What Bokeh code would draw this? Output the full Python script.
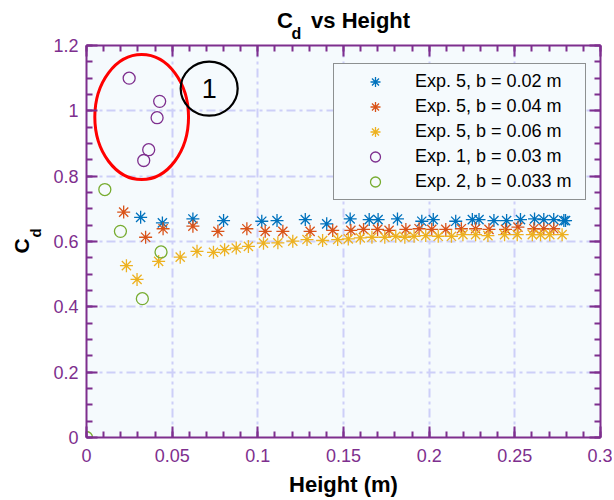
import numpy as np
from bokeh.plotting import figure
from bokeh.models import (Range1d, LinearAxis, FixedTicker, Label, Legend,
                          LegendItem, CustomJSTickFormatter)
from bokeh.core.properties import value
from bokeh.embed import file_html
from bokeh.resources import INLINE

# ---------------- data ----------------
exp5_b002_h = [0.0316, 0.0443, 0.0621, 0.0800, 0.1023, 0.1112, 0.1277, 0.1402, 0.1539,
               0.1650, 0.1702, 0.1815, 0.1957, 0.2024, 0.2155, 0.2252, 0.2291, 0.2378,
               0.2452, 0.2533, 0.2615, 0.2669, 0.2727, 0.2786, 0.2796]
exp5_b002_cd = [0.674, 0.657, 0.669, 0.664, 0.662, 0.664, 0.667, 0.654, 0.669,
                0.667, 0.667, 0.669, 0.662, 0.667, 0.662, 0.667, 0.667, 0.664,
                0.664, 0.667, 0.669, 0.667, 0.667, 0.664, 0.664]

exp5_b004_h = [0.0217, 0.0345, 0.0447, 0.0621, 0.0767, 0.0936, 0.1043, 0.1146, 0.1305,
               0.1437, 0.1543, 0.1617, 0.1699, 0.1766, 0.1864, 0.1941, 0.2015, 0.2097,
               0.2188, 0.2271, 0.2349, 0.2446, 0.2518, 0.2611, 0.2669, 0.2727]
exp5_b004_cd = [0.690, 0.613, 0.639, 0.647, 0.631, 0.639, 0.631, 0.631, 0.631,
                0.634, 0.634, 0.637, 0.637, 0.634, 0.637, 0.639, 0.637, 0.637,
                0.639, 0.639, 0.637, 0.637, 0.644, 0.639, 0.639, 0.639]

exp5_b006_h = [0.0233, 0.0295, 0.0421, 0.0547, 0.0645, 0.0741, 0.0806, 0.0874, 0.0945,
               0.1033, 0.1117, 0.1204, 0.1287, 0.1378, 0.1466, 0.1528, 0.1598, 0.1666,
               0.1741, 0.1805, 0.1858, 0.1912, 0.1980, 0.2053, 0.2130, 0.2197, 0.2271,
               0.2343, 0.2440, 0.2514, 0.2602, 0.2650, 0.2704, 0.2776]
exp5_b006_cd = [0.526, 0.484, 0.539, 0.552, 0.570, 0.567, 0.575, 0.580, 0.585,
                0.595, 0.596, 0.601, 0.606, 0.603, 0.606, 0.608, 0.611, 0.613,
                0.613, 0.616, 0.613, 0.616, 0.618, 0.616, 0.616, 0.621, 0.621,
                0.618, 0.621, 0.621, 0.621, 0.621, 0.621, 0.621]

exp1_h = [0.0249, 0.0427, 0.0412, 0.0363, 0.0334]
exp1_cd = [1.100, 1.029, 0.979, 0.881, 0.848]

exp2_h = [0.0, 0.0107, 0.0198, 0.0326, 0.0435]
exp2_cd = [0.0, 0.759, 0.631, 0.425, 0.568]

series_labels = ["Exp. 5, b = 0.02 m", "Exp. 5, b = 0.04 m", "Exp. 5, b = 0.06 m",
                 "Exp. 1, b = 0.03 m", "Exp. 2, b = 0.033 m"]

x_ticks = [0, 0.05, 0.1, 0.15, 0.2, 0.25, 0.3]
x_tick_labels = ["0", "0.05", "0.1", "0.15", "0.2", "0.25", "0.3"]
y_ticks = [0, 0.2, 0.4, 0.6, 0.8, 1.0, 1.2]
y_tick_labels = ["0", "0.2", "0.4", "0.6", "0.8", "1", "1.2"]

title_main = "C\u00a0\u00a0\u00a0vs Height"     # subscript "d" drawn separately
title_sub = "d"
x_label = "Height (m)"
y_label_main = "C"
y_label_sub = "d"

# annotation: red ellipse around Exp. 1, circled "1"
ellipse_center = [0.0322, 0.981]
ellipse_size = [0.0547, 0.383]
marker_center = [0.0716, 1.068]
marker_text = "1"

# ---------------- styling ----------------
FONT = "Liberation Sans"
AX = "#7E2F8E"
BLUE, ORANGE, YELLOW, PURPLE, GREEN = "#0072BD", "#D95319", "#EDB120", "#7E2F8E", "#77AC30"
BG = "#F5FAFD"
GRID = "#CDCFF8"

p = figure(width=612, height=500, output_backend="svg", toolbar_location=None,
           x_range=Range1d(0, 0.3), y_range=Range1d(0, 1.2),
           min_border_left=85, min_border_right=12, min_border_top=45,
           min_border_bottom=63, x_axis_location=None, y_axis_location=None)
p.background_fill_color = BG
p.border_fill_color = "white"
p.outline_line_color = None

x_minor = list(np.round(np.arange(0, 0.3001, 0.01), 4))
y_minor = list(np.round(np.arange(0, 1.2001, 0.05), 4))
xt = FixedTicker(ticks=x_ticks, minor_ticks=x_minor)
yt = FixedTicker(ticks=y_ticks, minor_ticks=y_minor)

def style_axis(ax, labels=True):
    ax.axis_line_color = AX
    ax.axis_line_width = 2
    ax.major_tick_line_color = AX
    ax.major_tick_line_width = 2
    ax.minor_tick_line_color = AX
    ax.minor_tick_line_width = 2
    ax.major_tick_in = 11
    ax.major_tick_out = 0
    ax.minor_tick_in = 6
    ax.minor_tick_out = 0
    ax.major_label_text_color = AX
    ax.major_label_text_font = FONT
    ax.major_label_text_font_size = "18px"
    ax.axis_label_text_font = FONT
    ax.axis_label_text_font_style = "bold"
    ax.axis_label_text_color = "black"
    ax.axis_label_text_font_size = "22px"
    if not labels:
        ax.formatter = CustomJSTickFormatter(code="return ''")
        ax.major_label_text_font_size = "1px"
        ax.major_label_standoff = 0

xb = LinearAxis(ticker=xt, major_label_overrides=dict(zip(x_ticks, x_tick_labels)),
                axis_label=x_label)
style_axis(xb)
xb.major_label_standoff = 11
xb.axis_label_standoff = 7
p.add_layout(xb, "below")

xa = LinearAxis(ticker=xt, axis_label=title_main)
style_axis(xa, labels=False)
xa.axis_label_standoff = 13
p.add_layout(xa, "above")

yl = LinearAxis(ticker=yt, major_label_overrides=dict(zip(y_ticks, y_tick_labels)))
style_axis(yl)
yl.major_label_standoff = 8
p.add_layout(yl, "left")

yr = LinearAxis(ticker=yt)
style_axis(yr, labels=False)
p.add_layout(yr, "right")

p.xgrid.ticker = xt
p.ygrid.ticker = yt
for g in (p.xgrid, p.ygrid):
    g.grid_line_color = GRID
    g.grid_line_width = 2
    g.grid_line_dash = "9 4 3 4"

r1 = p.scatter(exp5_b002_h, exp5_b002_cd, marker="asterisk", size=13,
               line_color=BLUE, line_width=1.3)
r2 = p.scatter(exp5_b004_h, exp5_b004_cd, marker="asterisk", size=13,
               line_color=ORANGE, line_width=1.3)
r3 = p.scatter(exp5_b006_h, exp5_b006_cd, marker="asterisk", size=13,
               line_color=YELLOW, line_width=1.3)
r4 = p.scatter(exp1_h, exp1_cd, marker="circle", size=12, fill_color=None,
               line_color=PURPLE, line_width=1.3)
r5 = p.scatter(exp2_h, exp2_cd, marker="circle", size=12, fill_color=None,
               line_color=GREEN, line_width=1.3)

p.ellipse(x=[ellipse_center[0]], y=[ellipse_center[1]], width=[ellipse_size[0]],
          height=[ellipse_size[1]], fill_color=None, line_color="#FF0000", line_width=3)
p.ellipse(x=[marker_center[0]], y=[marker_center[1]], width=57, height=54,
          width_units="screen", height_units="screen", fill_color=None,
          line_color="black", line_width=2.2)
p.text(x=[marker_center[0]], y=[marker_center[1]], text=[marker_text],
       text_align="center", text_baseline="middle", text_font=value(FONT),
       text_font_size="27px", text_color="black")

legend = Legend(items=[LegendItem(label=l, renderers=[r])
                       for l, r in zip(series_labels, [r1, r2, r3, r4, r5])],
                location=(247, 237))
legend.padding = 5
legend.spacing = 0
legend.margin = 0
legend.glyph_width = 72
legend.glyph_height = 25
legend.label_height = 25
legend.label_width = 165
legend.label_standoff = 4
legend.label_text_font = FONT
legend.label_text_font_size = "18px"
legend.label_text_color = "black"
legend.border_line_color = "#262626"
legend.border_line_width = 1.5
legend.background_fill_color = BG
legend.background_fill_alpha = 1
p.add_layout(legend)

# ---------------- y label and subscripts (side-panel labels) ----------------
def lab(x, y, t, size, angle=0):
    return Label(x=x, y=y, x_units="screen", y_units="screen", text=t,
                 text_font=FONT, text_font_size=size, text_font_style="bold",
                 text_color="black", text_align="left", text_baseline="alphabetic",
                 angle=angle)

p.add_layout(lab(-6, 184, y_label_main, "21px", angle=np.pi / 2), "left")
p.add_layout(lab(25, 200, y_label_sub, "15px", angle=np.pi / 2), "left")
p.add_layout(lab(291, 404, title_sub, "16px"), "left")

open("out.html", "w").write(file_html(p, INLINE))
